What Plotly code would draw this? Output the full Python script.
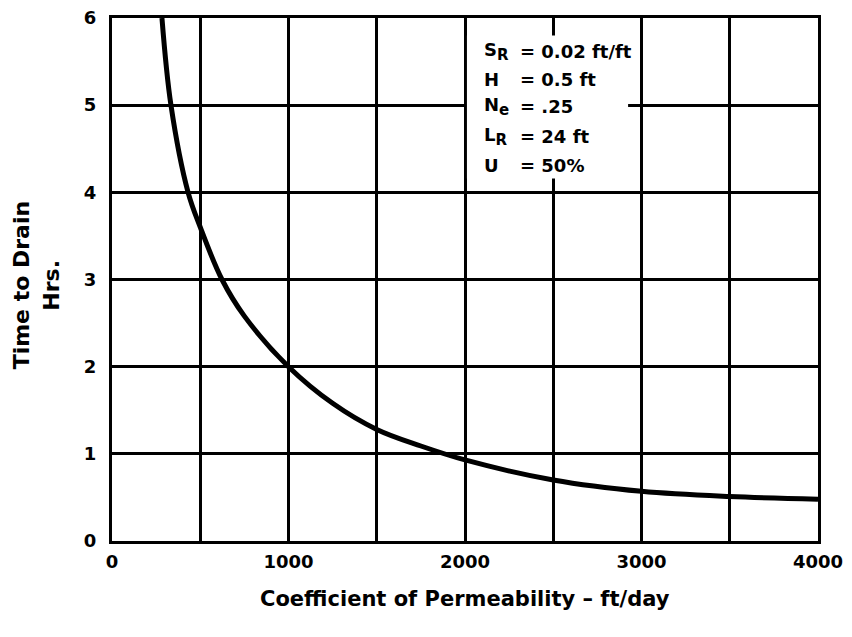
import plotly.graph_objects as go

# Data
permeability = [283, 334, 431, 500, 623, 750, 1000, 1250, 1500, 1750, 2000, 2500, 3000, 3500, 4000]
time_to_drain = [6.0, 5.0, 4.0, 3.6, 3.0, 2.58, 2.0, 1.58, 1.28, 1.09, 0.93, 0.70, 0.57, 0.51, 0.48]

x_ticks = [0, 1000, 2000, 3000, 4000]
y_ticks = [0, 1, 2, 3, 4, 5, 6]

SUB = "<sub><span style='font-size:15px'>%s</span></sub>"
param_labels = ["S" + SUB % "R", "H", "N" + SUB % "e", "L" + SUB % "R", "U"]
param_values = ["= 0.02 ft/ft", "= 0.5 ft", "= .25", "= 24 ft", "= 50%"]

FONT = "DejaVu Sans, Arial, sans-serif"

fig = go.Figure()
fig.add_trace(go.Scatter(
    x=permeability, y=time_to_drain, mode="lines",
    line=dict(color="black", width=5, shape="spline", smoothing=1.0),
    hoverinfo="skip", showlegend=False,
))

# white panel behind the parameter block
fig.add_shape(type="rect", xref="x", yref="y", x0=2011, x1=2924, y0=4.16, y1=5.8,
              fillcolor="white", line=dict(width=0), layer="above")

row_y = [5.61, 5.29, 4.98, 4.64, 4.31]
for lab, val, yy in zip(param_labels, param_values, row_y):
    fig.add_annotation(x=2096, y=yy, xref="x", yref="y", text="<b>%s</b>" % lab,
                       showarrow=False, xanchor="left", yanchor="middle",
                       font=dict(family=FONT, size=18, color="black"))
    fig.add_annotation(x=2300, y=yy, xref="x", yref="y", text="<b>%s</b>" % val,
                       showarrow=False, xanchor="left", yanchor="middle",
                       font=dict(family=FONT, size=18, color="black"))

# axis titles
fig.add_annotation(x=-0.128, y=0.49, xref="paper", yref="paper", text="<b>Time to Drain</b>",
                   textangle=-90, showarrow=False, xanchor="center", yanchor="middle",
                   font=dict(family=FONT, size=22, color="black"))
fig.add_annotation(x=-0.085, y=0.49, xref="paper", yref="paper", text="<b>Hrs.</b>",
                   textangle=-90, showarrow=False, xanchor="center", yanchor="middle",
                   font=dict(family=FONT, size=22, color="black"))
fig.add_annotation(x=0.5, y=-0.11, xref="paper", yref="paper",
                   text="<b>Coefficient of Permeability – ft/day</b>",
                   showarrow=False, xanchor="center", yanchor="middle",
                   font=dict(family=FONT, size=21, color="black"))

fig.update_xaxes(
    range=[0, 4000], tickvals=x_ticks, ticktext=[str(v) for v in x_ticks],
    showgrid=True, gridcolor="black", gridwidth=2.5,
    showline=True, linecolor="black", linewidth=3, mirror=True,
    zeroline=False, ticks="", ticklabelstandoff=2, ticklabeloverflow="allow",
    tickfont=dict(family=FONT, size=18, color="black", weight="bold"),
    minor=dict(tickvals=[500, 1500, 2500, 3500], showgrid=True,
               gridcolor="black", gridwidth=2.5),
)
fig.update_yaxes(
    range=[0, 6], tickvals=y_ticks, ticktext=[str(v) for v in y_ticks],
    showgrid=True, gridcolor="black", gridwidth=2.5,
    showline=True, linecolor="black", linewidth=3, mirror=True,
    zeroline=False, ticks="", ticklabelstandoff=9, ticklabeloverflow="allow",
    tickfont=dict(family=FONT, size=18, color="black", weight="bold"),
)

# page body has an 8px default margin, so the figure is sized to fit the window
fig.update_layout(
    width=836, height=621,
    margin=dict(l=104, r=26, t=10, b=88, autoexpand=False),
    plot_bgcolor="white", paper_bgcolor="white",
    font=dict(family=FONT, color="black"),
)

fig.write_html("out.html")
